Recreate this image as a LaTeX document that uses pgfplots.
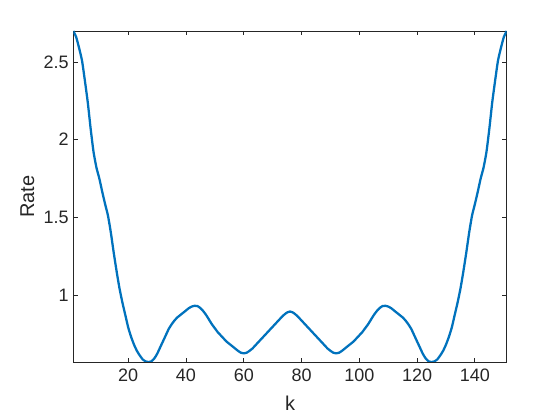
\documentclass[border=0pt]{standalone}
\usepackage{pgfplots}
\pgfplotsset{compat=1.18}
\usepackage{fontspec}
\setmainfont{Liberation Sans}
\definecolor{mblue}{rgb}{0,0.447,0.741}
\definecolor{mgray}{rgb}{0.15,0.15,0.15}
\begin{document}
\begin{tikzpicture}
\useasboundingbox (-55pt,-43.5pt) rectangle (365pt,271.5pt);
\begin{axis}[
  at={(0,0)}, anchor=south west,
  scale only axis, width=325pt, height=248.25pt,
  xmin=1, xmax=151, ymin=0.568, ymax=2.70,
  xtick={20,40,...,140}, ytick={1,1.5,2,2.5},
  tick align=inside, major tick length=3.3pt,
  axis line style={mgray, line width=0.6pt},
  tick style={mgray, line width=0.6pt},
  ticklabel style={font=\fontsize{13.5}{16}\selectfont, text=mgray},
  xticklabel style={yshift=-2pt},
  yticklabel style={xshift=0pt},
  /pgf/number format/assume math mode=true,
  xlabel={k}, ylabel={Rate},
  label style={font=\fontsize{15}{18}\selectfont, text=mgray},
  xlabel style={yshift=-3.5pt},
  ylabel style={yshift=0pt},
  axis background/.style={fill=white},
]
\addplot[mblue, line width=1.7pt, smooth, tension=0.3] coordinates {
(1,2.700)(2,2.66)(3,2.59)(4,2.51)(5,2.38)(6,2.24)(7,2.07)(8,1.92)(9,1.82)(10,1.75)
(11,1.665)(12,1.585)(13,1.51)(14,1.40)(15,1.27)(16,1.15)(17,1.04)(18,0.95)(19,0.87)(20,0.79)
(21,0.73)(22,0.68)(23,0.64)(24,0.61)(25,0.585)(26,0.572)(27,0.568)(28,0.572)(29,0.59)(30,0.62)
(31,0.66)(32,0.70)(33,0.74)(34,0.78)(35,0.81)(36,0.835)(37,0.855)(38,0.87)(39,0.885)(40,0.90)
(41,0.915)(42,0.925)(43,0.93)(44,0.928)(45,0.915)(46,0.895)(47,0.87)(48,0.84)(49,0.81)(50,0.785)
(51,0.76)(52,0.74)(53,0.72)(54,0.70)(55,0.685)(56,0.67)(57,0.655)(58,0.64)(59,0.628)(60,0.624)
(61,0.628)(62,0.64)(63,0.655)(64,0.675)(65,0.695)(66,0.715)(67,0.735)(68,0.755)(69,0.775)(70,0.795)
(71,0.815)(72,0.835)(73,0.855)(74,0.873)(75,0.887)(76,0.893)
(77,0.887)(78,0.873)(79,0.855)(80,0.835)(81,0.815)(82,0.795)(83,0.775)(84,0.755)(85,0.735)(86,0.715)
(87,0.695)(88,0.675)(89,0.655)(90,0.64)(91,0.628)(92,0.624)(93,0.628)(94,0.64)(95,0.655)(96,0.67)
(97,0.685)(98,0.70)(99,0.72)(100,0.74)(101,0.76)(102,0.785)(103,0.81)(104,0.84)(105,0.87)(106,0.895)
(107,0.915)(108,0.928)(109,0.93)(110,0.925)(111,0.915)(112,0.90)(113,0.885)(114,0.87)(115,0.855)(116,0.835)
(117,0.81)(118,0.78)(119,0.74)(120,0.70)(121,0.66)(122,0.62)(123,0.59)(124,0.572)(125,0.568)(126,0.572)
(127,0.585)(128,0.61)(129,0.64)(130,0.68)(131,0.73)(132,0.79)(133,0.87)(134,0.95)(135,1.04)(136,1.15)
(137,1.27)(138,1.40)(139,1.51)(140,1.585)(141,1.665)(142,1.75)(143,1.82)(144,1.92)(145,2.07)(146,2.24)
(147,2.38)(148,2.51)(149,2.59)(150,2.66)(151,2.700)
};
\end{axis}
\end{tikzpicture}
\end{document}
